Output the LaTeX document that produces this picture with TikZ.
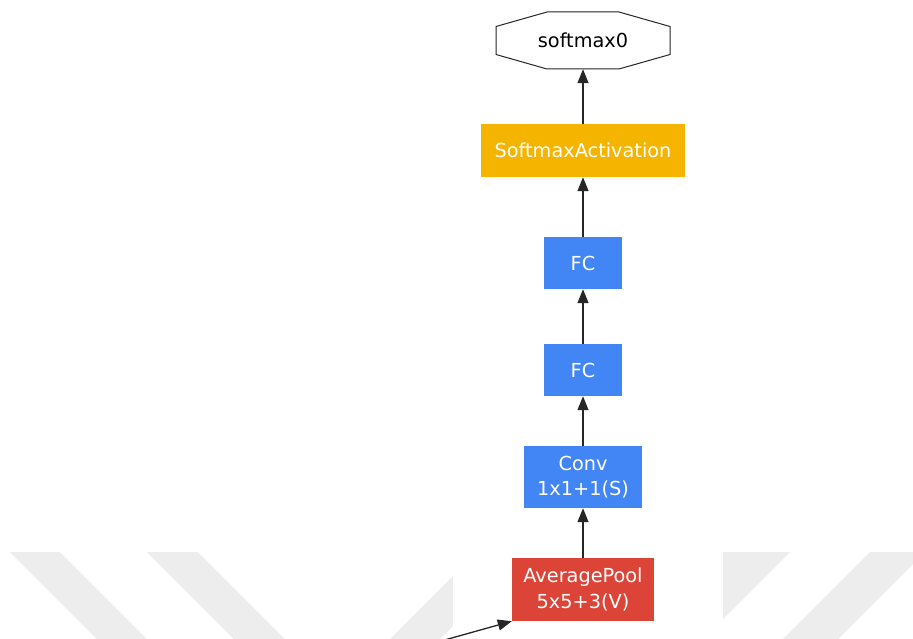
\documentclass[tikz,border=0pt]{standalone}
\usepackage{fontspec}
\setmainfont{DejaVu Sans}
\usetikzlibrary{arrows.meta,calc}

\definecolor{gblue}{HTML}{4285F4}
\definecolor{gred}{HTML}{DB4437}
\definecolor{gyellow}{HTML}{F4B400}
\definecolor{wmark}{HTML}{EDEDED}

\tikzset{
  layer/.style={inner sep=0pt, text=white, align=center,
    font=\fontsize{19.3}{25.5}\selectfont},
  bluebox/.style={layer, fill=gblue},
  redbox/.style={layer, fill=gred},
  yellowbox/.style={layer, fill=gyellow},
  octo/.style={draw=black!85, line width=1pt, fill=white},
  edge/.style={draw=black!85, line width=1.3pt,
    -{Triangle[length=14pt,width=11pt]}},
  stripe/.style={fill=wmark, draw=none}
}

\begin{document}
\begin{tikzpicture}[x=1pt,y=-1pt]
  \useasboundingbox (0,0) rectangle (913,639);
  \clip (0,0) rectangle (913,639);
  \fill[white] (0,0) rectangle (913,639);

  % background stripes
  \fill[stripe] (10,552) -- (60,552) -- (160,652) -- (110,652) -- cycle;
  \fill[stripe] (147,552) -- (198,552) -- (298,652) -- (247,652) -- cycle;
  \fill[stripe] (477,552) -- (527,552) -- (427,652) -- (377,652) -- cycle;
  \fill[stripe] (720,552) -- (790,552) -- (690,652) -- (620,652) -- cycle;
  \fill[stripe] (870,552) -- (925,552) -- (825,652) -- (770,652) -- cycle;
  \fill[white] (453,0) rectangle (723,639);

  % output node
  \node[inner sep=0pt, minimum width=174pt, minimum height=57pt] (out) at (583,40.5) {};
  \draw[octo] (out.center) ++(-87,-14) -- ++(0,28) -- ++(51,14.5) -- ++(72,0)
    -- ++(51,-14.5) -- ++(0,-28) -- ++(-51,-14.5) -- ++(-72,0) -- cycle;
  \node[font=\fontsize{19.3}{25.5}\selectfont, text=black] (outlabel) at (out.center) {softmax0};

  % layers
  \node[yellowbox, minimum width=204pt, minimum height=53pt] (sact) at (583,150.5) {SoftmaxActivation};
  \node[bluebox, minimum width=78pt, minimum height=52pt] (fcb) at (583,263) {FC};
  \node[bluebox, minimum width=78pt, minimum height=52pt] (fca) at (583,370) {FC};
  \node[bluebox, minimum width=118pt, minimum height=62pt] (conv) at (583,477) {Conv\\1x1+1(S)};
  \node[redbox, minimum width=142pt, minimum height=63pt] (pool) at (583,589.5) {AveragePool\\5x5+3(V)};

  % connections
  \coordinate (in) at (441,641);
  \draw[edge] (in) -- (pool.south west);
  \draw[edge] (pool) -- (conv);
  \draw[edge] (conv) -- (fca);
  \draw[edge] (fca) -- (fcb);
  \draw[edge] (fcb) -- (sact);
  \draw[edge] (sact) -- (out.south);
\end{tikzpicture}
\end{document}
